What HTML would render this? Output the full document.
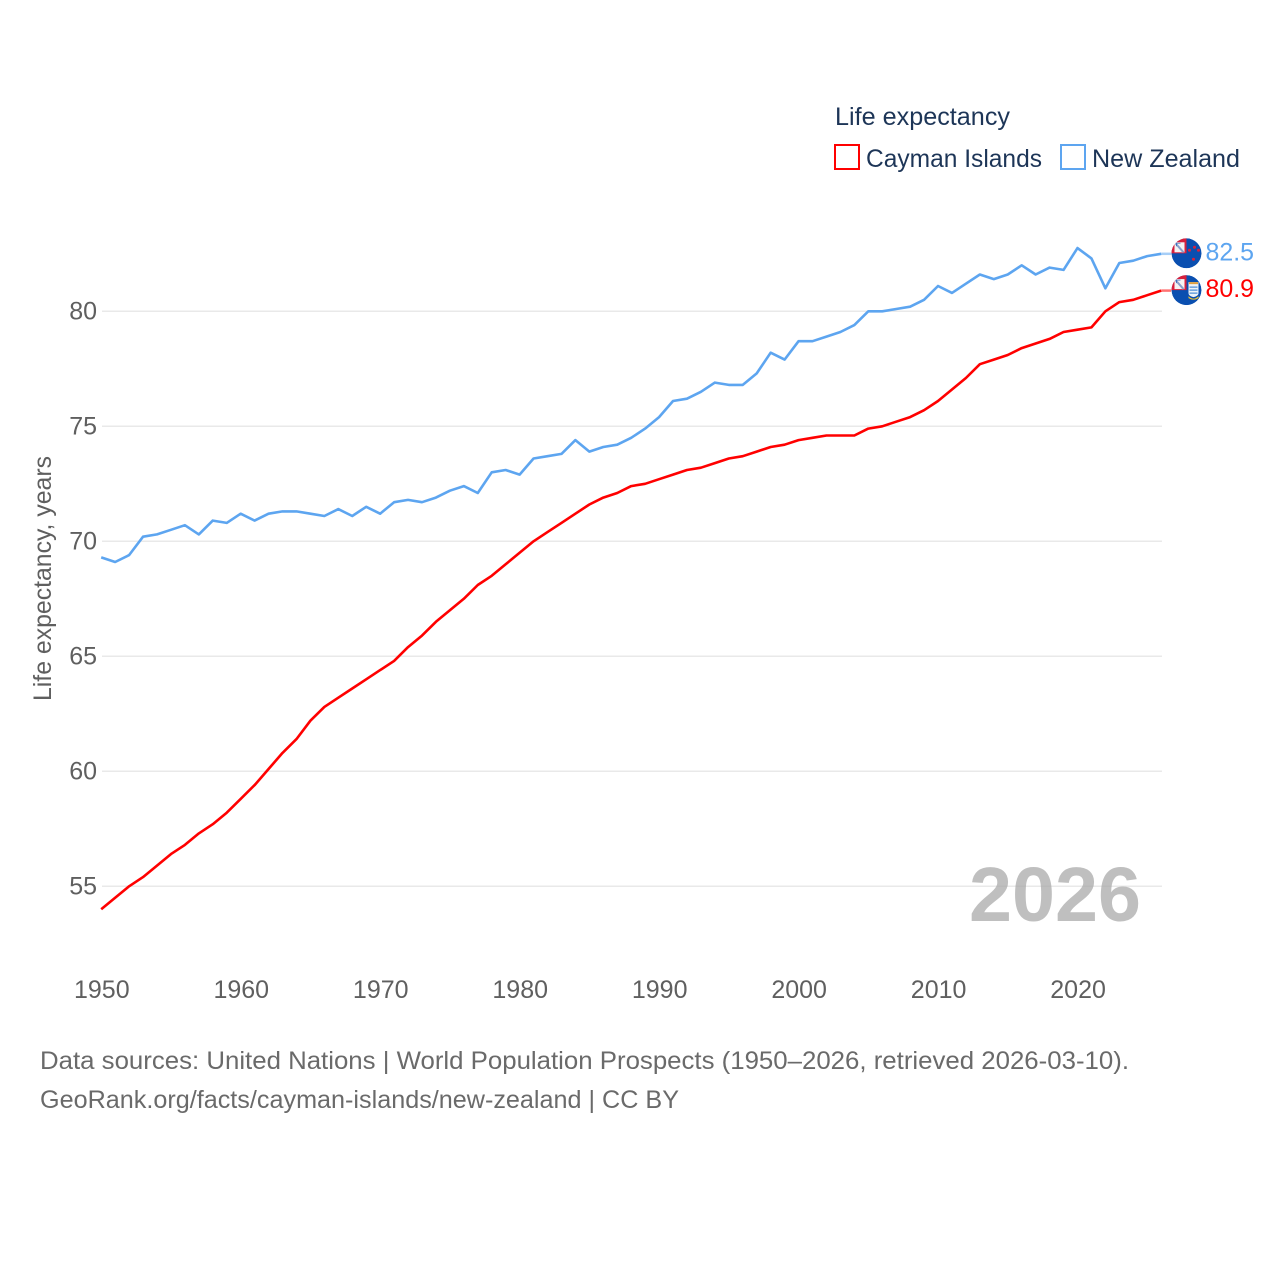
<!DOCTYPE html>
<html lang="en">
<head>
<meta charset="utf-8">
<title>Life expectancy: Cayman Islands vs New Zealand</title>
<style>
  html,body{margin:0;padding:0;background:#fff;width:1280px;height:1280px;overflow:hidden}
  svg{display:block}
  text{font-family:"Liberation Sans",sans-serif}
</style>
</head>
<body>
<svg id="chart" xmlns="http://www.w3.org/2000/svg" width="1280" height="1280" viewBox="0 0 1280 1280">
  <defs>
    <clipPath id="flag-clip"><circle cx="0" cy="0" r="15"></circle></clipPath>
  </defs>
  <g id="grid"></g>
  <g id="yticks"></g>
  <g id="xticks"></g>
  <text transform="translate(51,701) rotate(-90)" font-size="25" fill="#5f5f5f" textLength="245" lengthAdjust="spacingAndGlyphs">Life expectancy, years</text>
  <text x="969" y="921" font-size="77" font-weight="700" fill="#a6a6a6" fill-opacity="0.72" textLength="172" lengthAdjust="spacingAndGlyphs">2026</text>
  <g id="series"></g>
  <g id="markers"></g>
  <g>
    <text x="835" y="125" font-size="25" fill="#1d3557" textLength="175" lengthAdjust="spacingAndGlyphs">Life expectancy</text>
    <g>
      <rect x="835" y="145" width="24" height="24" fill="#fff" stroke="#ff0000" stroke-width="2"></rect>
      <text x="866" y="167" font-size="25" fill="#1d3557" textLength="176" lengthAdjust="spacingAndGlyphs">Cayman Islands</text>
    </g>
    <g>
      <rect x="1061" y="145" width="24" height="24" fill="#fff" stroke="#5da5f0" stroke-width="2"></rect>
      <text x="1092" y="167" font-size="25" fill="#1d3557" textLength="148" lengthAdjust="spacingAndGlyphs">New Zealand</text>
    </g>
  </g>
  <g>
    <text x="40" y="1069" font-size="25" fill="#6a6a6a" textLength="1089" lengthAdjust="spacingAndGlyphs">Data sources: United Nations | World Population Prospects (1950–2026, retrieved 2026-03-10).</text>
    <text x="40" y="1108" font-size="25" fill="#6a6a6a" textLength="639" lengthAdjust="spacingAndGlyphs">GeoRank.org/facts/cayman-islands/new-zealand | CC BY</text>
  </g>
</svg>
<script>
const startYear = 1950;
const xTickLabels = [1950, 1960, 1970, 1980, 1990, 2000, 2010, 2020];
const yTickLabels = [55, 60, 65, 70, 75, 80];
const caymanValues = [
  54.0,54.5,55.0,55.4,55.9,56.4,56.8,57.3,57.7,58.2,
  58.8,59.4,60.1,60.8,61.4,62.2,62.8,63.2,63.6,64.0,
  64.4,64.8,65.4,65.9,66.5,67.0,67.5,68.1,68.5,69.0,
  69.5,70.0,70.4,70.8,71.2,71.6,71.9,72.1,72.4,72.5,
  72.7,72.9,73.1,73.2,73.4,73.6,73.7,73.9,74.1,74.2,
  74.4,74.5,74.6,74.6,74.6,74.9,75.0,75.2,75.4,75.7,
  76.1,76.6,77.1,77.7,77.9,78.1,78.4,78.6,78.8,79.1,
  79.2,79.3,80.0,80.4,80.5,80.7,80.9
];
const newZealandValues = [
  69.3,69.1,69.4,70.2,70.3,70.5,70.7,70.3,70.9,70.8,
  71.2,70.9,71.2,71.3,71.3,71.2,71.1,71.4,71.1,71.5,
  71.2,71.7,71.8,71.7,71.9,72.2,72.4,72.1,73.0,73.1,
  72.9,73.6,73.7,73.8,74.4,73.9,74.1,74.2,74.5,74.9,
  75.4,76.1,76.2,76.5,76.9,76.8,76.8,77.3,78.2,77.9,
  78.7,78.7,78.9,79.1,79.4,80.0,80.0,80.1,80.2,80.5,
  81.1,80.8,81.2,81.6,81.4,81.6,82.0,81.6,81.9,81.8,
  82.75,82.3,81.0,82.1,82.2,82.4,82.5
];

const NS = 'http://www.w3.org/2000/svg';
const x = year => 101.2 + (year - 1950) * 13.947;
const y = value => 311.3 + (80 - value) * 23;
function make(tag, attrs, parent, text) {
  const el = document.createElementNS(NS, tag);
  for (const k in attrs) el.setAttribute(k, attrs[k]);
  if (text !== undefined) el.textContent = text;
  parent.appendChild(el);
  return el;
}
const grid = document.getElementById('grid');
const yticks = document.getElementById('yticks');
const xticks = document.getElementById('xticks');
const series = document.getElementById('series');
const markers = document.getElementById('markers');
const lastYear = startYear + caymanValues.length - 1;

yTickLabels.forEach(v => {
  const line = make('line', {x1: x(startYear) + 0.8, x2: x(lastYear) + 0.8, y1: y(v), y2: y(v), stroke: '#e9e9e9', 'stroke-width': 1.5}, grid);
  
  
  const label = make('text', {x: 97, y: y(v) + 8, 'text-anchor': 'end', 'font-size': 25, fill: '#5f5f5f'}, yticks, v);
  
  
});
xTickLabels.forEach(v => {
  const label = make('text', {x: x(v) + 0.6, y: 998, 'text-anchor': 'middle', 'font-size': 25, fill: '#5f5f5f'}, xticks, v);
  
  
});

function drawLine(values, color, name) {
  const pts = values.map((v, i) => x(startYear + i).toFixed(2) + ',' + y(v).toFixed(2)).join(' ');
  const line = make('polyline', {points: pts, fill: 'none', stroke: color, 'stroke-width': 2.6, 'stroke-linejoin': 'round'}, series);
  
  
}
drawLine(newZealandValues, '#5da5f0', 'line-new-zealand');
drawLine(caymanValues, '#ff0000', 'line-cayman-islands');

function unionJack(g) {
  make('rect', {x: -15, y: -15, width: 15, height: 15, fill: '#d8203c'}, g);
  make('rect', {x: -12, y: -11, width: 10, height: 10, fill: '#f6f3f3'}, g);
  make('path', {d: 'M-11 -10L-3 -1', stroke: '#8aa0cc', 'stroke-width': 2}, g);
  make('path', {d: 'M-10 -7V-10H-6', stroke: '#0a4fb0', 'stroke-width': 1, fill: 'none', 'stroke-opacity': 0.6}, g);
}
function drawMarker(value, color, name, kind) {
  const cy = y(value);
  const link = make('line', {x1: x(lastYear), x2: x(lastYear) + 10, y1: cy, y2: cy, stroke: color, 'stroke-width': 2.5, 'stroke-opacity': 0.55}, markers);
  
  
  const flag = make('g', {transform: 'translate(1186.5,' + (cy - 0.5).toFixed(2) + ')', 'clip-path': 'url(#flag-clip)'}, markers);
  
  
  make('circle', {cx: 0, cy: 0, r: 15, fill: '#0a4fb0'}, flag);
  unionJack(flag);
  if (kind === 'nz') {
    [[3, -3], [12, -3], [8, -6], [7, 6]].forEach(p => make('circle', {cx: p[0], cy: p[1], r: 1.5, fill: '#d8203c'}, flag));
  } else {
    make('path', {d: 'M2 -8H12V3Q12 6 7 7Q2 6 2 3Z', fill: '#eef3f8'}, flag);
    make('path', {d: 'M3 -3H11M3 0H11M3 3H11', stroke: '#4f8fd8', 'stroke-width': 1.3}, flag);
    make('path', {d: 'M2.5 -7H11.5', stroke: '#e0a040', 'stroke-width': 2}, flag);
    make('path', {d: 'M2 6Q7 11 12 6L12 8Q7 11 2 8Z', fill: '#f2c230'}, flag);
  }
  const label = make('text', {x: 1205.5, y: cy + 6.5, 'font-size': 25, fill: color, textLength: 48.5, lengthAdjust: 'spacingAndGlyphs'}, markers, value.toFixed(1));
  
  
}
drawMarker(newZealandValues[newZealandValues.length - 1], '#5da5f0', 'new-zealand', 'nz');
drawMarker(caymanValues[caymanValues.length - 1], '#ff0000', 'cayman-islands', 'ky');
</script>
</body>
</html>
